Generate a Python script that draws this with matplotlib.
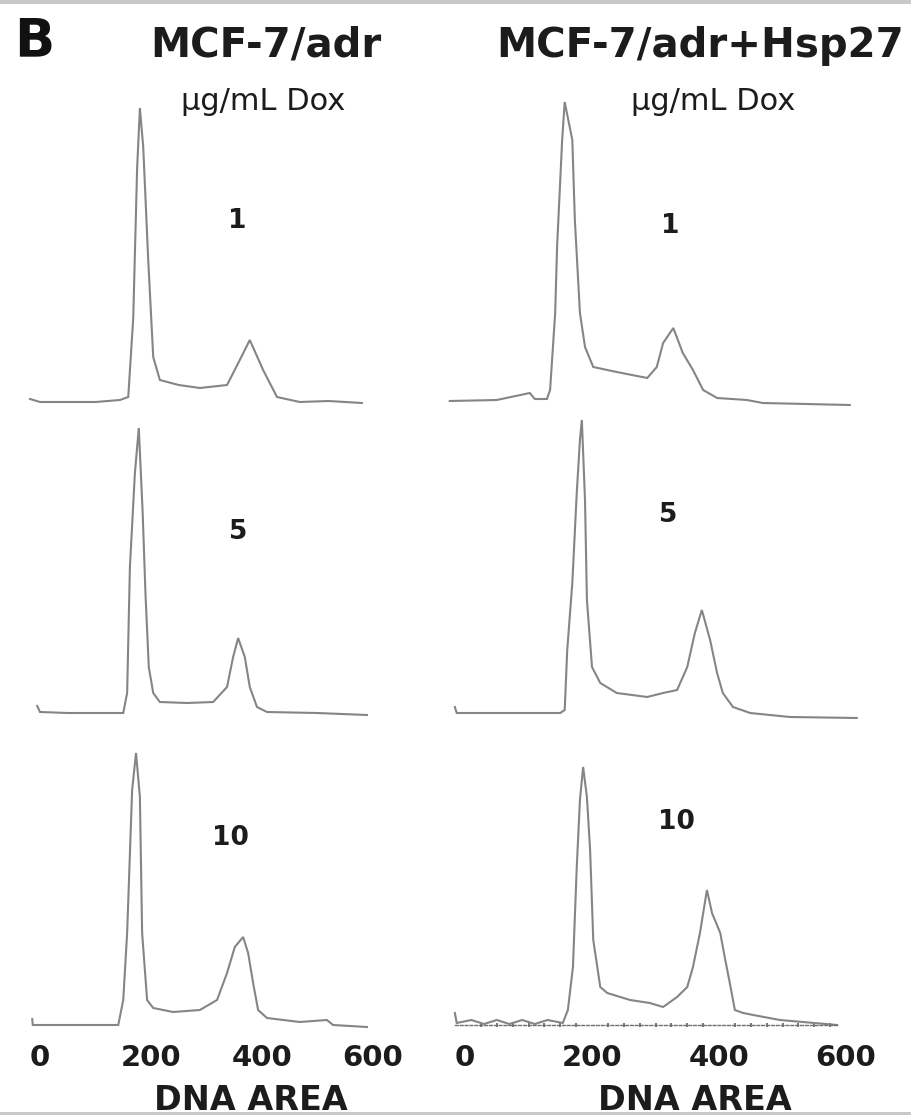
import matplotlib
matplotlib.use("Agg")
import matplotlib.pyplot as plt
from matplotlib.patches import Rectangle

# ---------------- data (DNA area vs. relative cell count) ----------------
tick_values = [0, 200, 400, 600]
tick_labels = ["0", "200", "400", "600"]
col_titles = ["MCF-7/adr", "MCF-7/adr+Hsp27"]
doses = ["1", "5", "10"]

adr_d1_x = [-18, 0, 50, 100, 144, 159, 168, 175, 180, 186, 195, 204, 216, 250, 288, 337, 360, 378, 402, 427, 468, 520, 580]
adr_d1_y = [4, 1, 1, 1, 3, 6, 85, 235, 295, 256, 143, 46, 23, 18, 15, 18, 43, 63, 33, 6, 1, 2, 0]

adr_d5_x = [-5, 0, 50, 100, 150, 157, 162, 171, 178, 185, 190, 196, 204, 216, 265, 312, 337, 348, 357, 369, 378, 391, 409, 499, 589]
adr_d5_y = [7, 1, 0, 0, 0, 20, 146, 240, 285, 200, 120, 46, 20, 11, 10, 11, 26, 56, 75, 56, 26, 6, 1, 0, -2]

adr_d10_x = [-14, -13, 50, 141, 150, 157, 166, 173, 180, 184, 193, 204, 240, 288, 319, 337, 351, 366, 375, 384, 393, 409, 468, 517, 528, 589]
adr_d10_y = [6, 0, 0, 0, 25, 92, 235, 272, 228, 92, 25, 17, 13, 15, 25, 52, 78, 88, 72, 42, 15, 7, 3, 5, 0, -2]

hsp_d1_x = [-24, 50, 102, 110, 129, 134, 142, 145, 153, 157, 169, 173, 181, 189, 202, 239, 287, 302, 312, 328, 343, 359, 375, 397, 444, 469, 606]
hsp_d1_y = [1, 2, 9, 3, 3, 12, 89, 155, 262, 300, 262, 182, 89, 55, 35, 30, 24, 35, 59, 74, 49, 32, 12, 4, 2, -1, -3]

hsp_d5_x = [-16, -13, 50, 150, 157, 161, 169, 176, 181, 184, 189, 192, 200, 213, 239, 287, 312, 334, 350, 362, 373, 386, 397, 406, 422, 449, 512, 617]
hsp_d5_y = [6, 0, 0, 0, 3, 63, 130, 220, 273, 293, 213, 113, 46, 30, 20, 16, 20, 23, 46, 80, 103, 73, 40, 20, 6, 0, -4, -5]

hsp_d10_x = [-16, -13, 10, 30, 50, 70, 90, 110, 130, 154, 162, 170, 176, 181, 186, 192, 197, 202, 213, 224, 260, 291, 312, 334, 350, 359, 370, 381, 389, 402, 409, 417, 425, 438, 454, 496, 586]
hsp_d10_y = [12, 2, 5, 1, 5, 1, 5, 1, 5, 2, 15, 58, 158, 225, 258, 228, 175, 85, 38, 32, 25, 22, 18, 28, 38, 58, 92, 135, 112, 92, 68, 42, 15, 12, 10, 5, 0]

curves = [
    [(adr_d1_x, adr_d1_y), (adr_d5_x, adr_d5_y), (adr_d10_x, adr_d10_y)],
    [(hsp_d1_x, hsp_d1_y), (hsp_d5_x, hsp_d5_y), (hsp_d10_x, hsp_d10_y)],
]

# ---------------- layout (pixels) ----------------
W, H = 911, 1115
fig = plt.figure(figsize=(W / 100, H / 100), dpi=100)
fig.patch.set_facecolor("white")

col_geom = [
    # (axes left px, axes right px, px of DNA 0, px per unit)
    (20, 400, 40, 0.555),
    (440, 880, 465, 0.635),
]
baselines = [[403, 713, 1025], [402, 713, 1025]]
dose_pos = [[(237, 221), (238, 532), (230, 838)],
            [(670, 226), (668, 515), (676, 822)]]

line_color = "#858585"
text_color = "#1c1c1c"


def fx(px):
    return px / W


def fy(py):
    return 1 - py / H


for c in range(2):
    L, R, x0, s = col_geom[c]
    for r in range(3):
        B = baselines[c][r]
        ax = fig.add_axes([fx(L), fy(B + 10), (R - L) / W, 320 / H])
        xs, ys = curves[c][r]
        ax.plot(xs, ys, color=line_color, lw=1.5, solid_joinstyle="miter")
        ax.set_xlim((L - x0) / s, (R - x0) / s)
        ax.set_ylim(-10, 310)
        ax.set_facecolor("none")
        for sp in ["top", "left", "right"]:
            ax.spines[sp].set_visible(False)
        ax.set_yticks([])
        if r == 2:
            ax.spines["bottom"].set_position(("data", 0))
            ax.set_xticks(tick_values)
            ax.set_xticklabels(tick_labels, fontsize=21, fontweight="bold",
                               color=text_color)
            ax.tick_params(axis="x", length=0, pad=14)
            if c == 1:
                ax.spines["bottom"].set_bounds(-16, 588)
                ax.spines["bottom"].set_color("#707070")
                ax.spines["bottom"].set_linewidth(1.0)
                ax.spines["bottom"].set_linestyle((0, (2, 1.5)))
                ax.set_xticks(range(0, 600, 25), minor=True)
                ax.tick_params(axis="x", which="minor", length=3,
                               direction="inout", color="#606060", width=1.2)
            else:
                ax.spines["bottom"].set_visible(False)
        else:
            ax.spines["bottom"].set_visible(False)
            ax.set_xticks([])
        tx, ty = dose_pos[c][r]
        fig.text(fx(tx), fy(ty), doses[r], ha="center", va="center",
                 fontsize=19, fontweight="bold", color=text_color)

# ---------------- texts ----------------
fig.text(fx(34), fy(41), "B", ha="center", va="center", fontsize=38,
         fontweight="bold", color="#111111")
fig.text(fx(266), fy(45), col_titles[0], ha="center", va="center",
         fontsize=29, fontweight="bold", color=text_color)
fig.text(fx(700), fy(46), col_titles[1], ha="center", va="center",
         fontsize=29, fontweight="bold", color=text_color)
fig.text(fx(263), fy(101), "µg/mL Dox", ha="center", va="center",
         fontsize=22, color=text_color)
fig.text(fx(713), fy(101), "µg/mL Dox", ha="center", va="center",
         fontsize=22, color=text_color)
fig.text(fx(251), fy(1100), "DNA AREA", ha="center", va="center",
         fontsize=24, fontweight="bold", color=text_color)
fig.text(fx(695), fy(1100), "DNA AREA", ha="center", va="center",
         fontsize=24, fontweight="bold", color=text_color)

# scan frame edges
fig.add_artist(Rectangle((0, fy(4)), 1, 4 / H, transform=fig.transFigure,
                         color="#c8c8c8", lw=0))
fig.add_artist(Rectangle((0, 0), 1, 3 / H, transform=fig.transFigure,
                         color="#c8c8c8", lw=0))

fig.savefig("out.png", dpi=100, facecolor="white")
